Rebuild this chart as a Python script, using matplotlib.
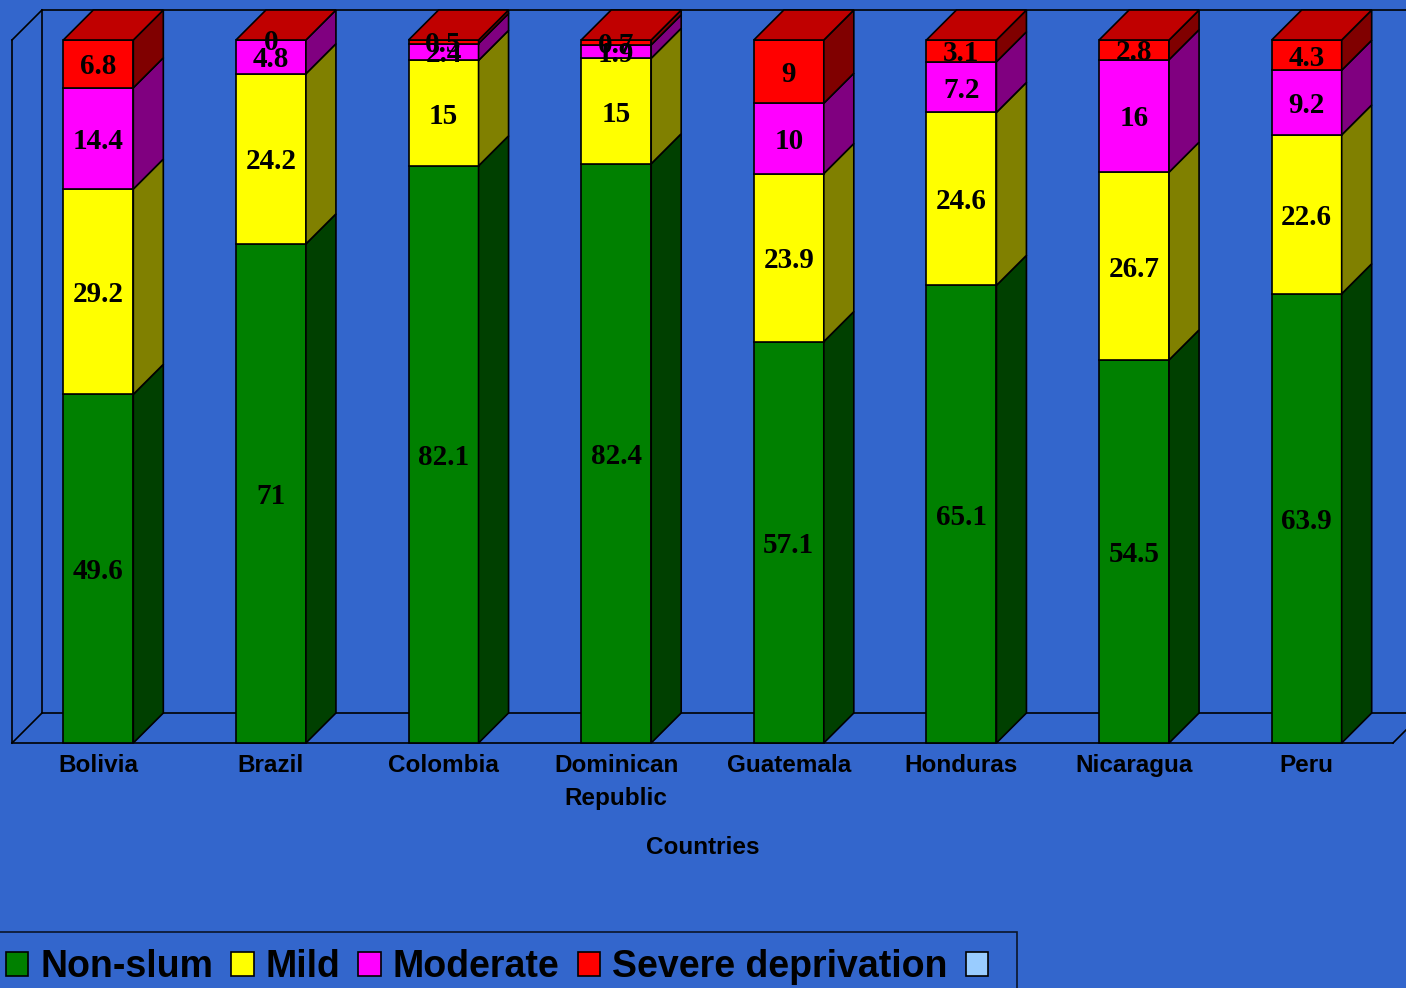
import matplotlib
matplotlib.use("Agg")
import matplotlib.pyplot as plt
from matplotlib.patches import Polygon, Patch

countries = ["Bolivia", "Brazil", "Colombia", "Dominican\nRepublic",
             "Guatemala", "Honduras", "Nicaragua", "Peru"]
non_slum = [49.6, 71, 82.1, 82.4, 57.1, 65.1, 54.5, 63.9]
mild = [29.2, 24.2, 15, 15, 23.9, 24.6, 26.7, 22.6]
moderate = [14.4, 4.8, 2.4, 1.9, 10, 7.2, 16, 9.2]
severe = [6.8, 0, 0.5, 0.7, 9, 3.1, 2.8, 4.3]
series_names = ["Non-slum", "Mild", "Moderate", "Severe deprivation"]

BG = "#3366CC"
front_colors = ["#008000", "#FFFF00", "#FF00FF", "#FF0000"]
side_colors = ["#004000", "#808000", "#800080", "#800000"]
top_color = "#C00000"

W, H = 1406, 988
fig = plt.figure(figsize=(W / 100, H / 100), dpi=100)
fig.patch.set_facecolor(BG)

# axes box = front plane of the 3d chart (floor at y=743px, 100% at y=40px)
ax = fig.add_axes([12 / W, (H - 743) / H, 1381 / W, 703 / H])
ax.set_facecolor("none")
ax.set_xlim(-0.5, 7.5)
ax.set_ylim(0, 100)
for s in ax.spines.values():
    s.set_visible(False)

px_x = 1381 / 8.0
px_y = 703 / 100.0
dx = 30 / px_x
dy = 30 / px_y
hw = 35 / px_x
lw = 1.2

# walls / floor outline
x0 = -0.5
xr = 7.5 + dx
wall = dict(color="black", lw=lw, zorder=1, clip_on=False)
ax.plot([x0, x0 + dx], [0, dy], **wall)
ax.plot([x0, x0], [0, 100], **wall)
ax.plot([x0, x0 + dx], [100, 100 + dy], **wall)
ax.plot([x0 + dx, x0 + dx], [dy, 100 + dy], **wall)
ax.plot([x0 + dx, xr], [100 + dy, 100 + dy], **wall)
ax.plot([x0 + dx, xr], [dy, dy], **wall)
ax.plot([x0, 7.5], [0, 0], **wall)
ax.plot([7.5, 7.5 + dx], [0, dy], **wall)

data = [non_slum, mild, moderate, severe]
for i in range(len(countries)):
    bottom = 0
    for k, vals in enumerate(data):
        v = vals[i]
        ax.bar(i, v, width=2 * hw, bottom=bottom, color=front_colors[k],
               edgecolor="black", linewidth=lw, zorder=3, clip_on=False)
        if v > 0:
            side = [(i + hw, bottom), (i + hw + dx, bottom + dy),
                    (i + hw + dx, bottom + v + dy), (i + hw, bottom + v)]
            ax.add_patch(Polygon(side, closed=True, fc=side_colors[k], ec="black",
                                 lw=lw, zorder=3, clip_on=False))
        bottom += v
    top = [(i - hw, bottom), (i + hw, bottom),
           (i + hw + dx, bottom + dy), (i - hw + dx, bottom + dy)]
    ax.add_patch(Polygon(top, closed=True, fc=top_color, ec="black",
                         lw=lw, zorder=3, clip_on=False))

    # value labels
    bottom = 0
    for k, vals in enumerate(data):
        v = vals[i]
        ax.text(i, bottom + v / 2, f"{v:g}", ha="center", va="center_baseline",
                fontsize=21, fontweight="bold", family="Liberation Serif",
                color="black", zorder=5)
        bottom += v

ax.set_yticks([])
ax.set_xticks(range(len(countries)))
ax.set_xticklabels(countries, fontsize=17.5, fontweight="bold",
                   family="Liberation Sans", linespacing=1.55)
ax.tick_params(axis="x", length=0, pad=8)
ax.set_xlabel("Countries", fontsize=17.5, fontweight="bold",
              family="Liberation Sans", labelpad=19)

handles = [Patch(fc=c, ec="black", lw=1.2) for c in front_colors]
handles.append(Patch(fc="#99CCFF", ec="black", lw=1.2))
labels = series_names + [""]
leg = fig.legend(handles, labels, loc="upper left",
                 bbox_to_anchor=(-0.008, (H - 932) / H),
                 ncol=5, frameon=True, fancybox=False, edgecolor="black",
                 facecolor="none", borderaxespad=0, borderpad=0.45,
                 handlelength=0.6, handleheight=0.6, handletextpad=0.32,
                 columnspacing=0.48,
                 prop=dict(family="Liberation Sans", weight="bold", size=27))
leg.get_frame().set_linewidth(1.2)

fig.savefig("out.png", dpi=100, facecolor=BG)
